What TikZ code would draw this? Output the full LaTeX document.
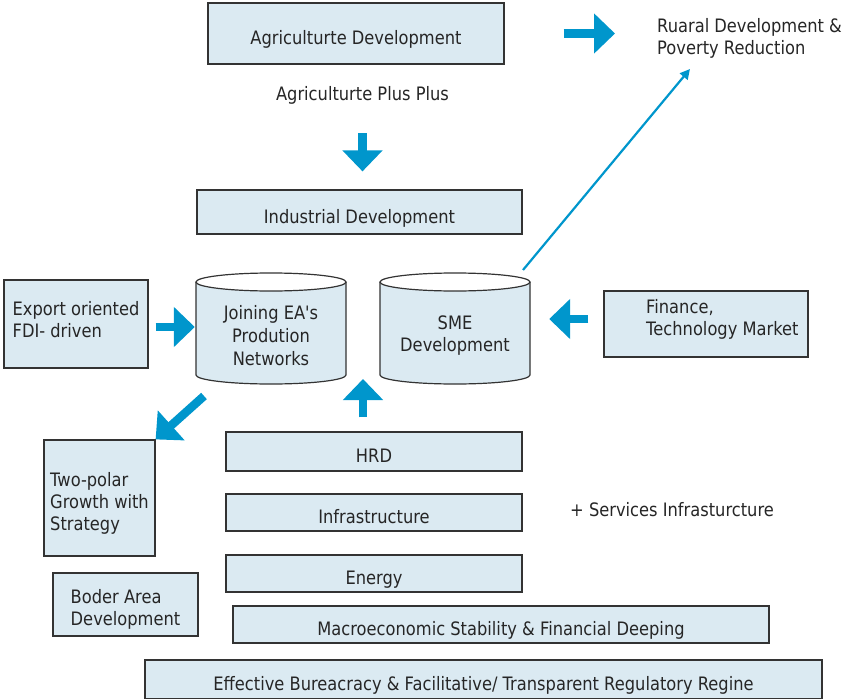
\documentclass[tikz,border=0pt]{standalone}
\usepackage{fontspec}
\setmainfont{DejaVu Sans}[FakeStretch=0.88, Ligatures=TeXOff]
\usepackage{xcolor}
\usetikzlibrary{arrows.meta,positioning,calc}
\definecolor{planFill}{HTML}{DBEAF2}
\definecolor{planLine}{HTML}{333333}
\definecolor{planBlue}{HTML}{0096CC}
\definecolor{planText}{HTML}{262626}

\begin{document}
\begin{tikzpicture}[
  x=1pt, y=-1pt,
  font=\fontsize{18.5}{22}\selectfont, text=planText,
  box/.style={draw=planLine, line width=1.2pt, fill=planFill, align=left, inner sep=2pt},
  bar/.style={box, align=center, text height=26pt, text depth=4pt},
  txt/.style={inner sep=0pt, align=left},
  cyl/.style={align=center, minimum width=150pt, minimum height=93pt, inner sep=0pt},
  blk/.style={-{Triangle[length=21pt,width=39pt]}, line width=8.5pt, color=planBlue},
  thin/.style={-{Triangle[length=10pt,width=10pt]}, line width=2.2pt, color=planBlue}
]
\useasboundingbox (0,0) rectangle (845,698);

% top row
\node[bar, minimum width=296pt, minimum height=61pt] (agri) at (356,33.5) {Agriculturte Development};
\node[txt, anchor=west] (rural) at (657,38) {Ruaral Development \&\\Poverty Reduction};
\node[txt] (plus) at (362.5,95) {Agriculturte Plus Plus};
\node[bar, minimum width=325pt, minimum height=44pt] (indus) at (359.5,212) {Industrial Development};

% cylinders
\foreach \cx in {271,455}{
  \filldraw[draw=planLine, line width=1.2pt, fill=planFill] (\cx-75,282) -- (\cx-75,375)
    arc[start angle=180, end angle=360, x radius=75pt, y radius=9pt] -- (\cx+75,282);
  \filldraw[draw=planLine, line width=1.2pt, fill=white] (\cx,282) ellipse[x radius=75pt, y radius=9pt];
}
\node[cyl, font=\fontsize{18.5}{23}\selectfont] (jen) at (271,336) {Joining EA's\\Prodution\\Networks};
\node[cyl] (sme) at (455,336) {SME\\Development};

% side boxes
\node[box, minimum width=144pt, minimum height=88pt] (export) at (76,324) {Export oriented\\FDI- driven\rule[-10pt]{0pt}{0pt}};
\node[box, minimum width=204pt, minimum height=66pt] (finance) at (706,324) {};
\node[txt, anchor=west] (financeTxt) at (646,319) {Finance,\\Technology Market};
\node[box, minimum width=111pt, minimum height=116pt] (twopolar) at (99.5,498) {\rule{0pt}{24pt}Two-polar\\Growth with\\Strategy};
\node[box, minimum width=145pt, minimum height=63pt] (boder) at (125.5,604.5) {\rule{0pt}{24pt}Boder Area\\Development};

% foundation stack
\node[bar, minimum width=296pt, minimum height=39pt] (hrd) at (374,451.5) {HRD};
\node[bar, minimum width=296pt, minimum height=37pt] (infra) at (374,512.5) {Infrastructure};
\node[bar, minimum width=296pt, minimum height=37pt] (energy) at (374,573.5) {Energy};
\node[bar, minimum width=536pt, minimum height=37pt] (macro) at (501,624.5) {Macroeconomic Stability \& Financial Deeping};
\node[bar, minimum width=677pt, minimum height=39pt] (effect) at (483.5,679.5) {Effective Bureacracy \& Facilitative/ Transparent Regulatory Regine};
\node[txt, anchor=west] (services) at (570,510) {+ Services Infrasturcture};

\coordinate (diagTail) at (204,396);
\coordinate (upTip) at (363,379);
\coordinate (smeOut) at (523,270);
\coordinate (ruralIn) at (690,69);

% arrows
\draw[blk, shorten <=59pt, shorten >=42pt] (agri.east) -- (agri.east -| rural.west);
\draw[blk, shorten <=29pt, shorten >=18pt] (plus.south) -- (plus.south |- indus.north);
\draw[blk, shorten <=7pt, shorten >=1pt] ([yshift=-3pt]export.east) -- ([yshift=-3pt]export.east -| jen.west);
\draw[blk, shorten <=15pt, shorten >=19pt] ([yshift=5pt]finance.west) -- ([yshift=5pt]finance.west -| sme.east);
\draw[blk, shorten <=14pt] (hrd.north -| upTip) -- (upTip);
\draw[blk] (diagTail) -- (twopolar.north east);
\draw[thin] (smeOut) -- (ruralIn);
\end{tikzpicture}
\end{document}
